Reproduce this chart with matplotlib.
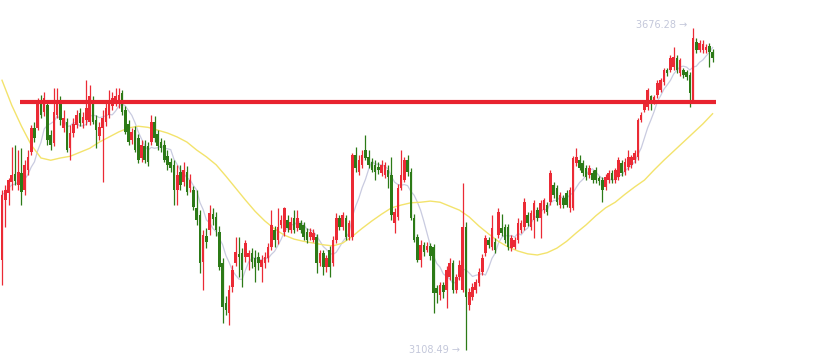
import numpy as np
import pandas as pd
import matplotlib
matplotlib.use("Agg")
import matplotlib.pyplot as plt

# dados dos candles
abertura = [3267, 3373, 3385, 3405, 3419, 3399, 3420, 3391, 3426, 3457,
            3500, 3500, 3549, 3528, 3540, 3488, 3473, 3523, 3549, 3500,
            3510, 3465, 3491, 3505, 3526, 3509, 3514, 3510, 3549, 3514,
            3486, 3500, 3510, 3523, 3539, 3546, 3542, 3561, 3532, 3507,
            3479, 3496, 3482, 3447, 3468, 3468, 3475, 3510, 3489, 3475,
            3470, 3450, 3440, 3435, 3391, 3422, 3405, 3422, 3394, 3391,
            3359, 3346, 3264, 3309, 3320, 3348, 3343, 3316, 3262, 3191,
            3174, 3220, 3262, 3278, 3279, 3272, 3272, 3279, 3271, 3272,
            3255, 3262, 3271, 3290, 3320, 3302, 3329, 3316, 3338, 3320,
            3341, 3324, 3332, 3329, 3316, 3308, 3302, 3308, 3262, 3279,
            3255, 3285, 3262, 3302, 3341, 3325, 3341, 3308, 3308, 3452,
            3422, 3435, 3461, 3449, 3440, 3435, 3431, 3420, 3417, 3426,
            3417, 3332, 3343, 3394, 3408, 3443, 3422, 3341, 3308, 3267,
            3294, 3285, 3292, 3290, 3218, 3205, 3223, 3214, 3237, 3262,
            3214, 3237, 3214, 3325, 3188, 3202, 3214, 3227, 3246, 3279,
            3302, 3290, 3299, 3311, 3324, 3325, 3325, 3288, 3290, 3302,
            3320, 3325, 3347, 3325, 3338, 3355, 3341, 3355, 3364, 3369,
            3399, 3394, 3364, 3376, 3385, 3359, 3359, 3438, 3443, 3438,
            3429, 3417, 3420, 3426, 3412, 3408, 3396, 3408, 3420, 3408,
            3413, 3438, 3422, 3431, 3435, 3443, 3449, 3514, 3532, 3537,
            3556, 3546, 3558, 3567, 3581, 3602, 3602, 3607, 3623, 3597,
            3602, 3599, 3593, 3549, 3651, 3637, 3637, 3637, 3644, 3634]
maxima = [3391, 3399, 3412, 3466, 3470, 3461, 3465, 3443, 3461, 3505,
          3510, 3553, 3558, 3563, 3549, 3496, 3570, 3570, 3556, 3532,
          3517, 3505, 3517, 3532, 3535, 3528, 3585, 3576, 3556, 3523,
          3510, 3532, 3549, 3567, 3563, 3570, 3570, 3567, 3539, 3514,
          3500, 3503, 3489, 3479, 3479, 3475, 3523, 3521, 3496, 3482,
          3479, 3461, 3447, 3443, 3435, 3435, 3440, 3433, 3419, 3398,
          3391, 3355, 3320, 3324, 3364, 3359, 3352, 3327, 3271, 3204,
          3223, 3258, 3308, 3308, 3288, 3302, 3285, 3288, 3285, 3281,
          3276, 3281, 3297, 3355, 3327, 3359, 3347, 3361, 3347, 3343,
          3355, 3355, 3338, 3334, 3324, 3324, 3322, 3313, 3285, 3285,
          3276, 3292, 3309, 3350, 3347, 3352, 3347, 3338, 3456, 3466,
          3452, 3461, 3488, 3461, 3447, 3443, 3440, 3443, 3440, 3435,
          3449, 3359, 3401, 3461, 3449, 3452, 3429, 3348, 3313, 3302,
          3299, 3299, 3297, 3295, 3223, 3228, 3228, 3257, 3271, 3267,
          3242, 3267, 3403, 3334, 3218, 3227, 3234, 3253, 3278, 3311,
          3308, 3346, 3306, 3359, 3348, 3331, 3331, 3311, 3308, 3341,
          3338, 3376, 3352, 3355, 3373, 3360, 3373, 3376, 3369, 3426,
          3405, 3399, 3387, 3382, 3391, 3396, 3450, 3465, 3452, 3443,
          3435, 3435, 3426, 3431, 3415, 3413, 3419, 3426, 3426, 3429,
          3449, 3443, 3447, 3461, 3452, 3461, 3517, 3528, 3549, 3570,
          3558, 3558, 3585, 3588, 3605, 3605, 3629, 3643, 3629, 3623,
          3605, 3602, 3599, 3676.28, 3658, 3655, 3655, 3648, 3649, 3639]
minima = [3223, 3325, 3364, 3391, 3399, 3391, 3364, 3382, 3417, 3452,
          3475, 3496, 3517, 3521, 3470, 3461, 3468, 3517, 3505, 3493,
          3457, 3443, 3484, 3500, 3503, 3500, 3505, 3505, 3507, 3465,
          3479, 3405, 3503, 3517, 3532, 3539, 3535, 3523, 3489, 3470,
          3472, 3457, 3438, 3440, 3438, 3433, 3470, 3475, 3461, 3457,
          3440, 3426, 3422, 3364, 3364, 3391, 3398, 3382, 3387, 3355,
          3329, 3244, 3214, 3288, 3311, 3329, 3309, 3250, 3156, 3170,
          3152, 3211, 3257, 3237, 3220, 3264, 3250, 3253, 3228, 3250,
          3228, 3253, 3264, 3285, 3290, 3295, 3324, 3309, 3316, 3315,
          3315, 3318, 3315, 3302, 3297, 3302, 3299, 3244, 3257, 3241,
          3246, 3237, 3257, 3297, 3320, 3320, 3302, 3302, 3302, 3422,
          3417, 3429, 3443, 3429, 3422, 3408, 3419, 3415, 3412, 3394,
          3338, 3315, 3338, 3391, 3405, 3415, 3338, 3299, 3264, 3255,
          3274, 3281, 3267, 3174, 3191, 3197, 3200, 3182, 3232, 3209,
          3209, 3232, 3211, 3108.49, 3179, 3197, 3209, 3221, 3241, 3274,
          3288, 3285, 3279, 3306, 3309, 3297, 3285, 3283, 3286, 3297,
          3315, 3320, 3327, 3320, 3306, 3336, 3306, 3350, 3347, 3364,
          3376, 3364, 3359, 3359, 3361, 3352, 3355, 3433, 3426, 3415,
          3408, 3412, 3403, 3403, 3399, 3369, 3391, 3403, 3403, 3403,
          3408, 3415, 3417, 3426, 3429, 3438, 3443, 3510, 3528, 3532,
          3532, 3542, 3553, 3563, 3576, 3591, 3598, 3602, 3597, 3591,
          3588, 3584, 3537, 3544, 3632, 3634, 3632, 3632, 3607, 3616]
fechamento = [3382, 3391, 3408, 3417, 3406, 3422, 3387, 3435, 3449, 3500,
              3482, 3546, 3523, 3553, 3479, 3470, 3528, 3546, 3514, 3517,
              3461, 3491, 3507, 3523, 3509, 3519, 3535, 3556, 3510, 3496,
              3502, 3517, 3535, 3549, 3553, 3556, 3558, 3528, 3493, 3475,
              3493, 3461, 3443, 3470, 3443, 3440, 3510, 3482, 3468, 3465,
              3443, 3435, 3429, 3391, 3417, 3399, 3426, 3387, 3408, 3360,
              3338, 3262, 3311, 3299, 3350, 3339, 3320, 3255, 3184, 3179,
              3214, 3250, 3281, 3272, 3250, 3297, 3279, 3264, 3255, 3262,
              3267, 3272, 3290, 3329, 3302, 3325, 3338, 3359, 3324, 3334,
              3320, 3341, 3320, 3308, 3302, 3316, 3315, 3262, 3279, 3255,
              3271, 3255, 3302, 3341, 3325, 3347, 3308, 3332, 3452, 3429,
              3443, 3452, 3447, 3435, 3426, 3422, 3426, 3435, 3435, 3413,
              3347, 3352, 3394, 3417, 3443, 3422, 3341, 3302, 3267, 3294,
              3281, 3292, 3274, 3209, 3209, 3223, 3211, 3250, 3262, 3214,
              3237, 3258, 3325, 3202, 3211, 3220, 3228, 3246, 3271, 3306,
              3294, 3324, 3285, 3352, 3315, 3302, 3290, 3306, 3302, 3332,
              3332, 3369, 3332, 3350, 3368, 3341, 3368, 3373, 3352, 3420,
              3382, 3369, 3382, 3364, 3364, 3391, 3447, 3449, 3429, 3420,
              3413, 3429, 3408, 3408, 3406, 3391, 3413, 3420, 3408, 3426,
              3443, 3420, 3440, 3449, 3449, 3456, 3514, 3523, 3544, 3567,
              3546, 3554, 3579, 3585, 3602, 3597, 3623, 3625, 3602, 3620,
              3593, 3590, 3562, 3658, 3637, 3650, 3648, 3643, 3634, 3623]

# media lenta (linha amarela), lida a cada 3 candles
media_lenta = [3584, 3540, 3503, 3470, 3447, 3443, 3447, 3450, 3457, 3464,
               3475, 3484, 3493, 3500, 3503, 3501, 3496, 3491, 3484, 3475,
               3461, 3449, 3435, 3415, 3394, 3373, 3353, 3336, 3322, 3311,
               3304, 3300, 3297, 3294, 3292, 3297, 3309, 3323, 3336, 3348,
               3359, 3364, 3368, 3369, 3371, 3369, 3362, 3355, 3343, 3327,
               3313, 3300, 3290, 3283, 3278, 3276, 3280, 3288, 3300, 3315,
               3329, 3345, 3359, 3369, 3383, 3396, 3408, 3426, 3443, 3459,
               3475, 3491, 3507, 3525]
passo_media_lenta = 3

# linha de resistencia (vermelha)
nivel_resistencia = 3546
inicio_resistencia = 5.5
fim_resistencia = 220.1

cor_alta = "#eb2a35"
cor_baixa = "#2c7a17"
cor_texto = "#c3c7da"


def main():
    o = np.array(abertura, dtype=float)
    h = np.array(maxima, dtype=float)
    l = np.array(minima, dtype=float)
    c = np.array(fechamento, dtype=float)
    x = np.arange(len(c))

    alta = c >= o
    cores = np.where(alta, cor_alta, cor_baixa)

    fig = plt.figure(figsize=(8.31, 3.58), dpi=100)
    ax = fig.add_axes([0, 0, 1, 1])

    # medias moveis
    media_rapida = pd.Series(c).rolling(7, min_periods=1).mean()
    ax.plot(x, media_rapida, color="#c9cbe0", lw=0.9, zorder=1)
    x_lenta = np.arange(len(media_lenta)) * passo_media_lenta
    ax.plot(x_lenta, media_lenta, color="#f3e36c", lw=1.0, zorder=1)

    # pavios e corpos
    ax.vlines(x, l, h, colors=cores, lw=0.9, zorder=2)
    corpo = np.maximum(np.abs(c - o), 1.8)
    ax.bar(x, corpo, bottom=np.minimum(o, c), width=0.8, color=cores,
           linewidth=0, zorder=3)

    ax.hlines(nivel_resistencia, inicio_resistencia, fim_resistencia,
              colors="#e8232f", lw=3, zorder=4)

    # rotulos de maxima e minima
    imax = int(np.argmax(h))
    imin = int(np.argmin(l))
    ax.annotate(f"{h[imax]:.2f} →", xy=(imax, h[imax]), xytext=(-4, 2),
                textcoords="offset points", ha="right", va="center",
                fontsize=7, color=cor_texto)
    ax.annotate(f"{l[imin]:.2f} →", xy=(imin, l[imin]), xytext=(-4, 0),
                textcoords="offset points", ha="right", va="center",
                fontsize=7, color=cor_texto)

    ax.set_xlim(-0.62, 255.5)
    ax.set_ylim(3094.4, 3725.5)
    ax.axis("off")
    fig.savefig("out.png", dpi=100, facecolor="white")


if __name__ == "__main__":
    main()
